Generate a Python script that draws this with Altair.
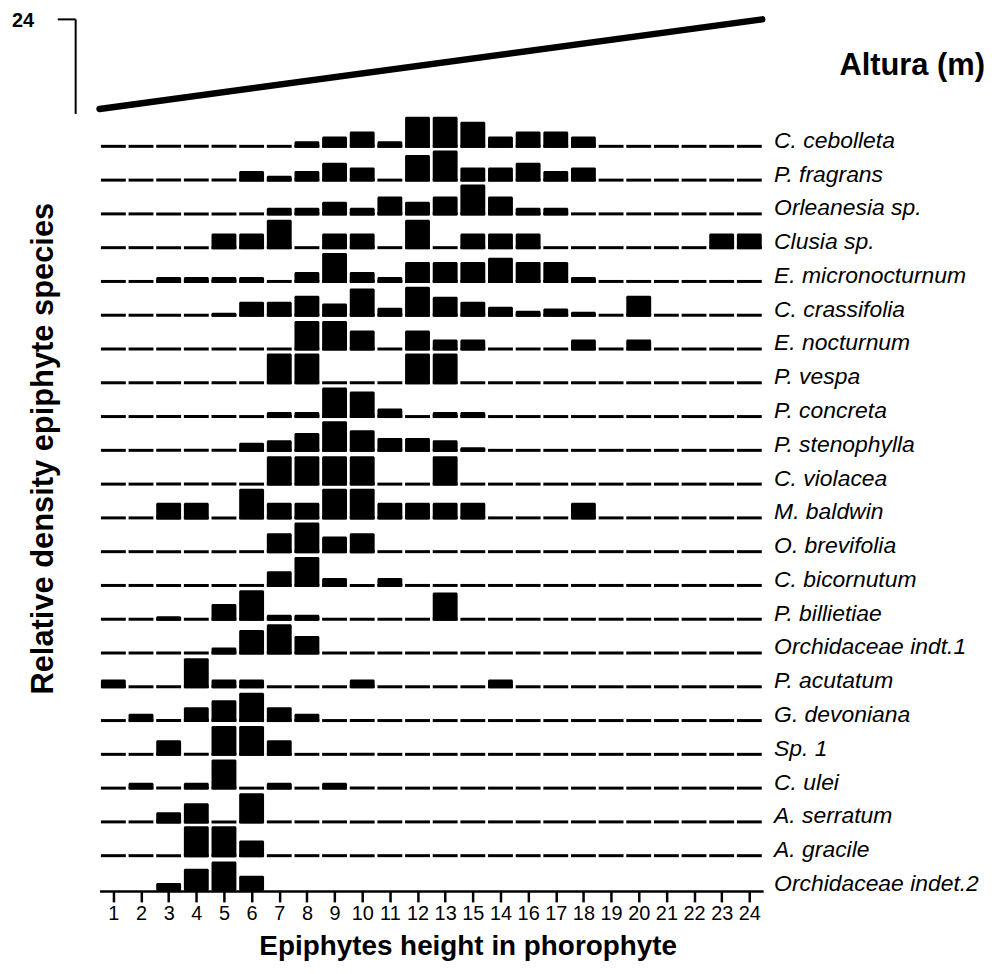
import json
import altair as alt
import pandas as pd

# ---------------- data ----------------
SPECIES = [
    "C. cebolleta", "P. fragrans", "Orleanesia sp.", "Clusia sp.", "E. micronocturnum",
    "C. crassifolia", "E. nocturnum", "P. vespa", "P. concreta", "P. stenophylla",
    "C. violacea", "M. baldwin", "O. brevifolia", "C. bicornutum", "P. billietiae",
    "Orchidaceae indt.1", "P. acutatum", "G. devoniana", "Sp. 1", "C. ulei",
    "A. serratum", "A. gracile", "Orchidaceae indet.2",
]

HEIGHT_LABELS = ["1", "2", "3", "4", "5", "6", "7", "8", "9", "10", "11", "12",
                 "13", "15", "14", "16", "17", "18", "19", "20", "21", "22", "23", "24"]

# relative density per height class (1..24), one list per species
C_CEBOLLETA = [0, 0, 0, 0, 0, 0, 0, 6.7, 11.3, 16.3, 6.7, 31.3, 31.3, 26.3, 11.3, 16.3, 16.3, 11.3, 0, 0, 0, 0, 0, 0]
P_FRAGRANS = [0, 0, 0, 0, 0, 10.7, 6, 10.7, 19, 14.3, 0, 26.7, 31.3, 14.3, 14.3, 19, 10.7, 14.3, 0, 0, 0, 0, 0, 0]
ORLEANESIA = [0, 0, 0, 0, 0, 0, 7.7, 7.7, 13.7, 7.7, 19, 13.7, 19, 31, 19, 7.7, 7.7, 0, 0, 0, 0, 0, 0, 0]
CLUSIA = [0, 0, 0, 0, 15.7, 15.7, 29.5, 0, 15.7, 15.7, 0, 29.5, 0, 15.7, 15.7, 15.7, 0, 0, 0, 0, 0, 0, 15.7, 15.7]
E_MICRONOCTURNUM = [0, 0, 6, 6, 6, 6, 0, 11, 30, 11, 6, 21, 21, 21, 25.3, 21, 21, 6, 0, 0, 0, 0, 0, 0]
C_CRASSIFOLIA = [0, 0, 0, 0, 4, 15, 15, 21, 13.3, 28.3, 9, 30, 20, 15, 10, 6, 8.3, 5, 0, 21, 0, 0, 0, 0]
E_NOCTURNUM = [0, 0, 0, 0, 0, 0, 0, 29.7, 29.7, 20, 0, 20, 11, 11, 0, 0, 0, 11, 0, 11, 0, 0, 0, 0]
P_VESPA = [0, 0, 0, 0, 0, 0, 31, 31, 0, 0, 0, 31, 31, 0, 0, 0, 0, 0, 0, 0, 0, 0, 0, 0]
P_CONCRETA = [0, 0, 0, 0, 0, 0, 6, 6, 30.7, 26.7, 9.7, 0, 6, 6, 0, 0, 0, 0, 0, 0, 0, 0, 0, 0]
P_STENOPHYLLA = [0, 0, 0, 0, 0, 9, 11.7, 19, 30.7, 21.7, 14, 14, 11.7, 4.5, 0, 0, 0, 0, 0, 0, 0, 0, 0, 0]
C_VIOLACEA = [0, 0, 0, 0, 0, 0, 29.5, 29.5, 29.5, 29.5, 0, 0, 29.5, 0, 0, 0, 0, 0, 0, 0, 0, 0, 0, 0]
M_BALDWIN = [0, 0, 16.7, 16.7, 0, 30.7, 16.7, 16.7, 30.7, 30.7, 16.7, 16.7, 16.7, 16.7, 0, 0, 0, 16.7, 0, 0, 0, 0, 0, 0]
O_BREVIFOLIA = [0, 0, 0, 0, 0, 0, 20, 30.7, 16.7, 20, 0, 0, 0, 0, 0, 0, 0, 0, 0, 0, 0, 0, 0, 0]
C_BICORNUTUM = [0, 0, 0, 0, 0, 0, 15.7, 30, 9, 0, 9, 0, 0, 0, 0, 0, 0, 0, 0, 0, 0, 0, 0, 0]
P_BILLIETIAE = [0, 0, 4.5, 0, 16.7, 30.7, 6, 6, 0, 0, 0, 0, 28.3, 0, 0, 0, 0, 0, 0, 0, 0, 0, 0, 0]
ORCHIDACEAE_1 = [0, 0, 0, 0, 7, 24.7, 30.3, 18.7, 0, 0, 0, 0, 0, 0, 0, 0, 0, 0, 0, 0, 0, 0, 0, 0]
P_ACUTATUM = [8.7, 0, 0, 30.3, 8.7, 8.7, 0, 0, 0, 8.7, 0, 0, 0, 0, 8.7, 0, 0, 0, 0, 0, 0, 0, 0, 0]
G_DEVONIANA = [0, 8.3, 0, 15, 22, 29.5, 15, 8.3, 0, 0, 0, 0, 0, 0, 0, 0, 0, 0, 0, 0, 0, 0, 0, 0]
SP_1 = [0, 0, 15.7, 0, 30, 30, 15.7, 0, 0, 0, 0, 0, 0, 0, 0, 0, 0, 0, 0, 0, 0, 0, 0, 0]
C_ULEI = [0, 7, 0, 7, 30.3, 0, 7, 0, 7, 0, 0, 0, 0, 0, 0, 0, 0, 0, 0, 0, 0, 0, 0, 0]
A_SERRATUM = [0, 0, 11.3, 20.3, 0, 30.3, 0, 0, 0, 0, 0, 0, 0, 0, 0, 0, 0, 0, 0, 0, 0, 0, 0, 0]
A_GRACILE = [0, 0, 0, 31, 31, 16.7, 0, 0, 0, 0, 0, 0, 0, 0, 0, 0, 0, 0, 0, 0, 0, 0, 0, 0]
ORCHIDACEAE_2 = [0, 0, 8, 22.3, 29.7, 15.3, 0, 0, 0, 0, 0, 0, 0, 0, 0, 0, 0, 0, 0, 0, 0, 0, 0, 0]

SERIES = [C_CEBOLLETA, P_FRAGRANS, ORLEANESIA, CLUSIA, E_MICRONOCTURNUM, C_CRASSIFOLIA,
          E_NOCTURNUM, P_VESPA, P_CONCRETA, P_STENOPHYLLA, C_VIOLACEA, M_BALDWIN,
          O_BREVIFOLIA, C_BICORNUTUM, P_BILLIETIAE, ORCHIDACEAE_1, P_ACUTATUM,
          G_DEVONIANA, SP_1, C_ULEI, A_SERRATUM, A_GRACILE, ORCHIDACEAE_2]

# ---------------- layout constants ----------------
ROW = 33.95          # vertical spacing between species rows (y units = px)
NROW = len(SPECIES)
HALF = 0.45          # half bar width in height-class units
LINE = 3             # baseline segment thickness
FONT = "Liberation Sans"

rows = []
for i, (sp, vals) in enumerate(zip(SPECIES, SERIES)):
    for j, v in enumerate(vals):
        rows.append({"species": sp, "idx": i, "col": j + 1, "v": v})
cells = pd.DataFrame(rows)
labels_df = pd.DataFrame({"species": SPECIES, "idx": list(range(NROW))})

base_expr = f"({NROW - 1} - datum.idx) * {ROW}"
label_expr = json.dumps(HEIGHT_LABELS) + "[datum.value - 1]"

xscale = alt.Scale(domain=[0.5, 24.5], nice=False, zero=False)
yscale = alt.Scale(domain=[0, 885], nice=False, zero=False)

x_axis = alt.Axis(
    values=list(range(1, 25)), labelExpr=label_expr, title="Epiphytes height in phorophyte",
    grid=False, domain=True, ticks=True, domainColor="black", domainWidth=2.5,
    tickColor="black", tickWidth=2.5, tickSize=11, tickOpacity=1,
    labelFont=FONT, labelFontSize=20, labelColor="black", labelPadding=2,
    labelOverlap=False, labelFlush=False, labelBound=False,
    titleFont=FONT, titleFontSize=28, titleFontWeight="bold", titleColor="black",
    titleX=370, titleY=56, titleBaseline="middle", titleAlign="center",
)
y_axis = alt.Axis(
    title="Relative density epiphyte species", domain=False, ticks=False, labels=False,
    grid=False, titleFont=FONT, titleFontSize=31, titleFontWeight="bold", titleColor="black",
    titleAngle=270, titleX=-56, titleY=440, titleAlign="center", titleBaseline="middle",
)

X = alt.X("xl:Q", scale=xscale, axis=x_axis)
Y = alt.Y("base:Q", scale=yscale, axis=y_axis)

# baseline segments under every height class
segments = alt.Chart(cells).transform_filter(
    f"datum.idx < {NROW - 1}"
).transform_calculate(
    base=base_expr, top=f"{base_expr} + {LINE}",
    xl=f"datum.col - {HALF}", xr=f"datum.col + {HALF}",
).mark_rect(color="black").encode(x=X, x2="xr:Q", y=Y, y2="top:Q")

bars = alt.Chart(cells).transform_filter("datum.v > 0").transform_calculate(
    base=base_expr, top=f"{base_expr} + datum.v",
    xl=f"datum.col - {HALF}", xr=f"datum.col + {HALF}",
).mark_rect(color="black", cornerRadius=1.5).encode(x=X, x2="xr:Q", y=Y, y2="top:Q")

names = alt.Chart(labels_df).transform_calculate(
    base=base_expr, xl="24.5",
).mark_text(
    align="left", baseline="alphabetic", dx=11, font=FONT, fontSize=23,
    fontStyle="italic", color="black",
).encode(x=X, y=Y, text="species:N")

one = pd.DataFrame({"k": [0]})
wedge = alt.Chart(one).mark_rule(color="black", strokeWidth=6.5, strokeCap="round").encode(
    x=alt.value(0), x2=alt.value(666), y=alt.value(99), y2=alt.value(9)
)
altura = alt.Chart(one).mark_text(
    text="Altura (m)", align="right", baseline="alphabetic", font=FONT, fontSize=31,
    fontWeight="bold", color="black",
).encode(x=alt.value(890), y=alt.value(65))
top_label = alt.Chart(one).mark_text(
    text="24", align="left", baseline="middle", font=FONT, fontSize=20,
    fontWeight="bold", color="black",
).encode(x=alt.value(-88), y=alt.value(11))
bar_h = alt.Chart(one).mark_rule(color="black", strokeWidth=2).encode(
    x=alt.value(-42), x2=alt.value(-24), y=alt.value(9)
)
bar_v = alt.Chart(one).mark_rule(color="black", strokeWidth=2).encode(
    x=alt.value(-24), y=alt.value(9), y2=alt.value(104)
)

chart = alt.layer(segments, bars, names, wedge, altura, top_label, bar_h, bar_v).properties(
    width=667, height=885,
    autosize=alt.AutoSizeParams(type="none"),
    padding={"left": 92, "top": 0, "right": 228, "bottom": 73},
    background="white",
).configure_view(stroke=None).configure_axisX(
    labelFontSize=20, labelOverlap=False, labelFont=FONT, labelColor="black",
    ticks=True, tickSize=11, tickWidth=2.5, tickColor="black", tickOpacity=1,
    domainWidth=2.5, domainColor="black",
)

chart.save("out.html", embed_options={"renderer": "svg", "actions": False})
